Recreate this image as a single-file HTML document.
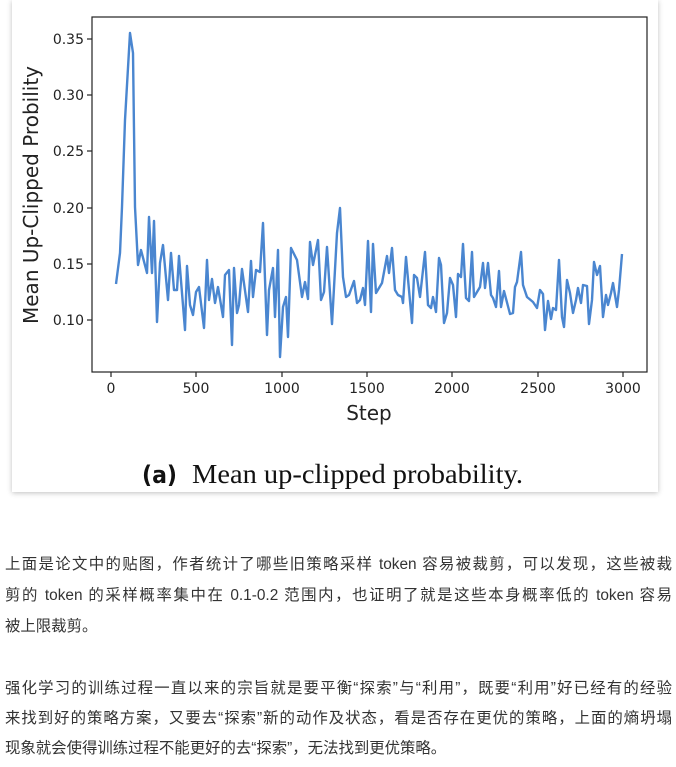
<!DOCTYPE html>
<html><head><meta charset="utf-8"><style>
html,body{margin:0;padding:0;background:#fff;width:676px;height:767px;overflow:hidden}
.card{position:absolute;left:12px;top:0;width:646px;height:492px;background:#fff;box-shadow:0 1px 5px rgba(0,0,0,.25)}
svg{position:absolute;left:0;top:0}
.l{position:absolute;left:5px;width:667px;font-family:"Liberation Sans","Noto Sans CJK SC",sans-serif;font-size:15.4px;color:#333;line-height:20px;text-align:justify;text-align-last:justify;white-space:nowrap}
.l.e{text-align-last:left}
</style></head><body>
<div class="card"></div>
<svg width="676" height="500" viewBox="0 0 676 500">
<rect x="92" y="17" width="555" height="355" fill="#fff" stroke="#222" stroke-width="1.2"/>
<g stroke="#222" stroke-width="1.2">
<line x1="92" y1="39" x2="87" y2="39"/><line x1="92" y1="95" x2="87" y2="95"/><line x1="92" y1="151" x2="87" y2="151"/><line x1="92" y1="208" x2="87" y2="208"/><line x1="92" y1="264" x2="87" y2="264"/><line x1="92" y1="320" x2="87" y2="320"/>
<line x1="111" y1="372" x2="111" y2="377"/><line x1="196" y1="372" x2="196" y2="377"/><line x1="282" y1="372" x2="282" y2="377"/><line x1="367" y1="372" x2="367" y2="377"/><line x1="452" y1="372" x2="452" y2="377"/><line x1="538" y1="372" x2="538" y2="377"/><line x1="623" y1="372" x2="623" y2="377"/>
</g>
<g font-family="DejaVu Sans,sans-serif" font-size="14" fill="#222" text-anchor="end">
<text x="84" y="44">0.35</text><text x="84" y="100">0.30</text><text x="84" y="156">0.25</text><text x="84" y="213">0.20</text><text x="84" y="269">0.15</text><text x="84" y="325">0.10</text>
</g>
<g font-family="DejaVu Sans,sans-serif" font-size="14" fill="#222" text-anchor="middle">
<text x="111" y="393">0</text><text x="196" y="393">500</text><text x="282" y="393">1000</text><text x="367" y="393">1500</text><text x="452" y="393">2000</text><text x="538" y="393">2500</text><text x="623" y="393">3000</text>
</g>
<text x="369" y="420" font-family="DejaVu Sans,sans-serif" font-size="20" fill="#222" text-anchor="middle">Step</text>
<text transform="translate(38,195) rotate(-90)" font-family="DejaVu Sans,sans-serif" font-size="20" fill="#222" text-anchor="middle">Mean Up-Clipped Probility</text>
<polyline fill="none" stroke="#4a86d0" stroke-width="2.4" stroke-linejoin="round" points="116,284 120,253 122,207 125,120 130,33 133,53 135,207 138,265 141,250 147,273 149,217 152,273 154,221 157,322 160,263 163,245 168,300 171,253 174,290 177,290 179,256 185,330 187,266 190,305 193,315 196,292 199,287 204,328 207,260 209,300 212,279 215,303 218,287 223,317 225,275 229,270 232,345 234,268 237,313 239,305 242,269 248,312 251,261 253,297 256,270 260,272 263,223 267,335 269,290 273,268 275,317 278,250 280,357 283,307 286,297 288,337 291,248 297,260 302,297 305,282 308,299 310,242 313,265 318,240 321,300 324,292 327,247 332,324 337,233 340,208 343,277 346,297 349,295 354,281 357,303 360,300 363,288 365,305 368,241 371,312 373,244 376,293 382,283 387,256 389,273 392,248 395,290 398,295 402,297 403,303 406,257 412,323 414,275 417,278 420,297 425,252 428,305 431,308 433,297 436,312 439,258 441,265 444,323 447,313 450,278 453,285 456,317 458,274 461,277 463,244 466,298 469,301 472,252 474,297 477,292 480,287 483,263 485,288 488,263 491,295 493,298 496,307 499,271 501,307 504,291 510,314 513,313 515,287 517,282 521,252 523,285 527,297 533,302 537,308 540,290 543,294 545,330 548,301 551,319 553,308 556,310 559,260 562,317 564,327 567,280 570,293 573,313 576,300 578,288 581,303 583,285 587,286 589,324 592,300 594,262 597,275 600,266 603,317 606,295 608,305 611,293 613,283 617,307 619,290 622,254"/>
<text x="142" y="483" font-family="DejaVu Sans,sans-serif" font-weight="bold" font-size="24" fill="#111" textLength="35" lengthAdjust="spacingAndGlyphs">(a)</text>
<text x="192" y="483" font-family="Liberation Serif,serif" font-size="27" fill="#111" textLength="331" lengthAdjust="spacingAndGlyphs">Mean up-clipped probability.</text>
</svg>
<div class="l" style="top:555px">上面是论文中的贴图，作者统计了哪些旧策略采样 token 容易被裁剪，可以发现，这些被裁</div>
<div class="l" style="top:586px">剪的 token 的采样概率集中在 0.1-0.2 范围内，也证明了就是这些本身概率低的 token 容易</div>
<div class="l e" style="top:617px">被上限裁剪。</div>
<div class="l" style="top:679px">强化学习的训练过程一直以来的宗旨就是要平衡“探索”与“利用”，既要“利用”好已经有的经验</div>
<div class="l" style="top:709px">来找到好的策略方案，又要去“探索”新的动作及状态，看是否存在更优的策略，上面的熵坍塌</div>
<div class="l e" style="top:739px">现象就会使得训练过程不能更好的去“探索”，无法找到更优策略。</div>
</body></html>
